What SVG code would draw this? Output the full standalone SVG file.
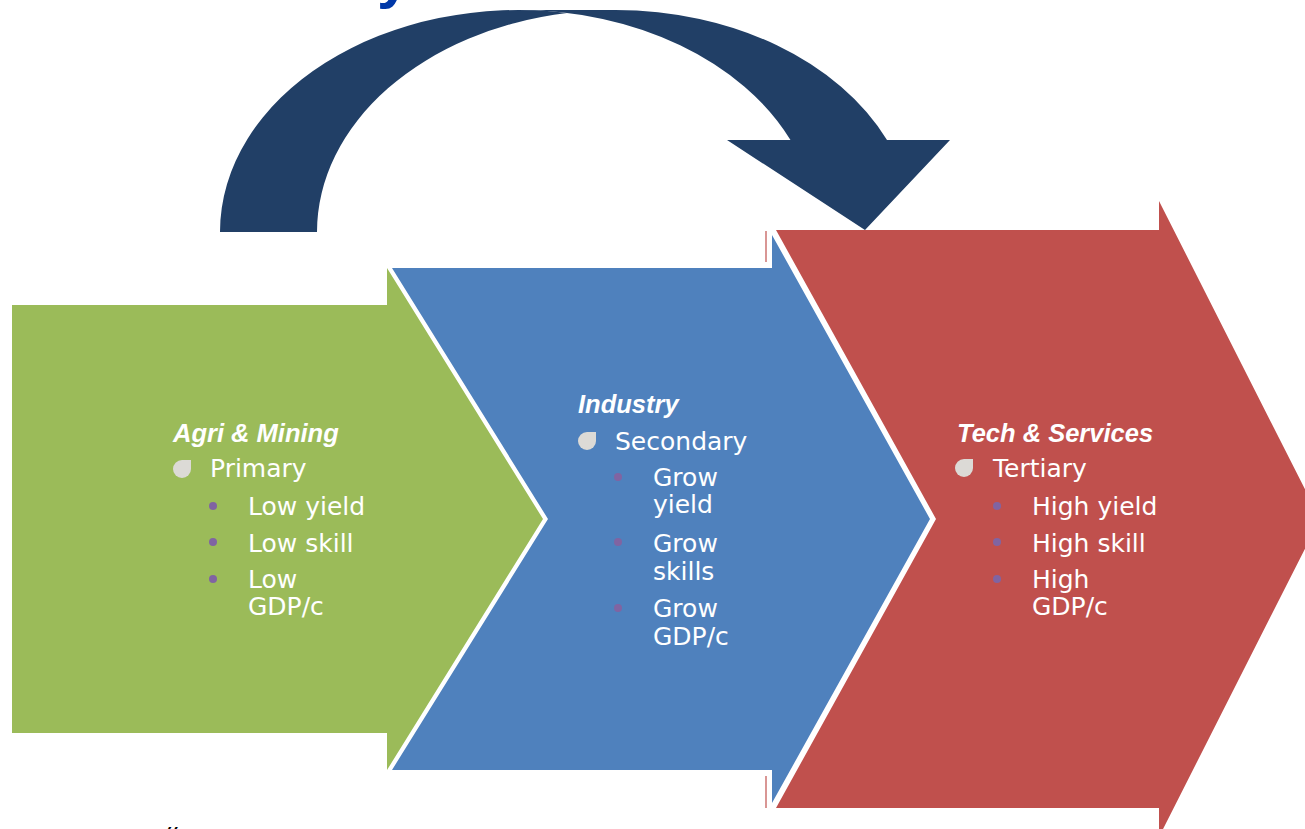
<svg xmlns="http://www.w3.org/2000/svg" width="1305" height="829" viewBox="0 0 1305 829">
  <defs>
    <style>
      .title { font-family: "Liberation Sans", Arial, sans-serif; font-weight: bold; font-style: italic; font-size: 25.5px; fill: #FFFFFF; }
      .body { font-family: "DejaVu Sans", sans-serif; font-size: 25px; fill: #FFFFFF; }
      .leaf { fill: #DCDAD6; }
      .dot { fill: #8064A2; }
      .curve { fill: #213F66; }
    </style>
  </defs>
  <rect x="0" y="0" width="1305" height="829" fill="#FFFFFF"/>

  <!-- partial title fragment at top -->
  <text x="377" y="-3" font-family="Liberation Sans, Arial, sans-serif" font-weight="bold" font-size="60" fill="#0038A8">y</text>

  <!-- curved arrow -->
  <g id="curved-arrow">
    <path class="curve" d="M 865 230 L 727 140 L 790.5 140 A 298.4 222 0 0 0 518.4 10 L 615.4 10 A 298.4 222 0 0 1 887 140 L 950 140 Z"/>
    <path class="curve" d="M 567 13 A 298.4 222 0 0 0 317 232 L 220 232 A 298.4 222 0 0 1 567 13 Z"/>
  </g>

  <!-- thin red lines (artifacts) -->
  <g id="connectors">
    <line x1="766" y1="231" x2="766" y2="262" stroke="#C0504D" stroke-width="1.2"/>
    <line x1="766" y1="776" x2="766" y2="808" stroke="#C0504D" stroke-width="1.2"/>
  </g>

  <g id="primary">
    <polygon points="12,305 387,305 387,268 543,519 387,770 387,733 12,733" fill="#9BBB59"/>
    <text class="title" x="173" y="442">Agri &amp; Mining</text>
    <path class="leaf" d="M 173 469 a 9 9 0 0 1 9 -9 h 9 v 9 a 9 9 0 0 1 -9 9 a 9 9 0 0 1 -9 -9 Z"/>
    <text class="body" x="210" y="477">Primary</text>
    <circle class="dot" cx="213" cy="506" r="4"/>
    <text class="body" x="248" y="515">Low yield</text>
    <circle class="dot" cx="213" cy="542" r="4"/>
    <text class="body" x="248" y="552">Low skill</text>
    <circle class="dot" cx="213" cy="579" r="4"/>
    <text class="body" x="248" y="588">Low</text>
    <text class="body" x="248" y="615">GDP/c</text>
  </g>

  <g id="secondary">
    <polygon points="392,268 772,268 772,235 930,519 772,803 772,770 392,770 548,519" fill="#4F81BD"/>
    <text class="title" x="578" y="413">Industry</text>
    <path class="leaf" d="M 578 441 a 9 9 0 0 1 9 -9 h 9 v 9 a 9 9 0 0 1 -9 9 a 9 9 0 0 1 -9 -9 Z"/>
    <text class="body" x="615" y="450">Secondary</text>
    <circle class="dot" cx="618" cy="477" r="4"/>
    <text class="body" x="653" y="486">Grow</text>
    <text class="body" x="653" y="513">yield</text>
    <circle class="dot" cx="618" cy="542" r="4"/>
    <text class="body" x="653" y="552">Grow</text>
    <text class="body" x="653" y="580">skills</text>
    <circle class="dot" cx="618" cy="608" r="4"/>
    <text class="body" x="653" y="617">Grow</text>
    <text class="body" x="653" y="645">GDP/c</text>
  </g>

  <g id="tertiary">
    <polygon points="776,230 1159,230 1159,201 1320,519 1159,837 1159,808 776,808 936,519" fill="#C0504D"/>
    <text class="title" x="957" y="442">Tech &amp; Services</text>
    <path class="leaf" d="M 955 468 a 9 9 0 0 1 9 -9 h 9 v 9 a 9 9 0 0 1 -9 9 a 9 9 0 0 1 -9 -9 Z"/>
    <text class="body" x="993" y="477">Tertiary</text>
    <circle class="dot" cx="997" cy="506" r="4"/>
    <text class="body" x="1032" y="515">High yield</text>
    <circle class="dot" cx="997" cy="542" r="4"/>
    <text class="body" x="1032" y="552">High skill</text>
    <circle class="dot" cx="997" cy="579" r="4"/>
    <text class="body" x="1032" y="588">High</text>
    <text class="body" x="1032" y="615">GDP/c</text>
  </g>

  <!-- partial quote fragment at bottom -->
  <text x="166" y="855" font-family="Liberation Sans, Arial, sans-serif" font-size="40" fill="#000000">“</text>
</svg>
